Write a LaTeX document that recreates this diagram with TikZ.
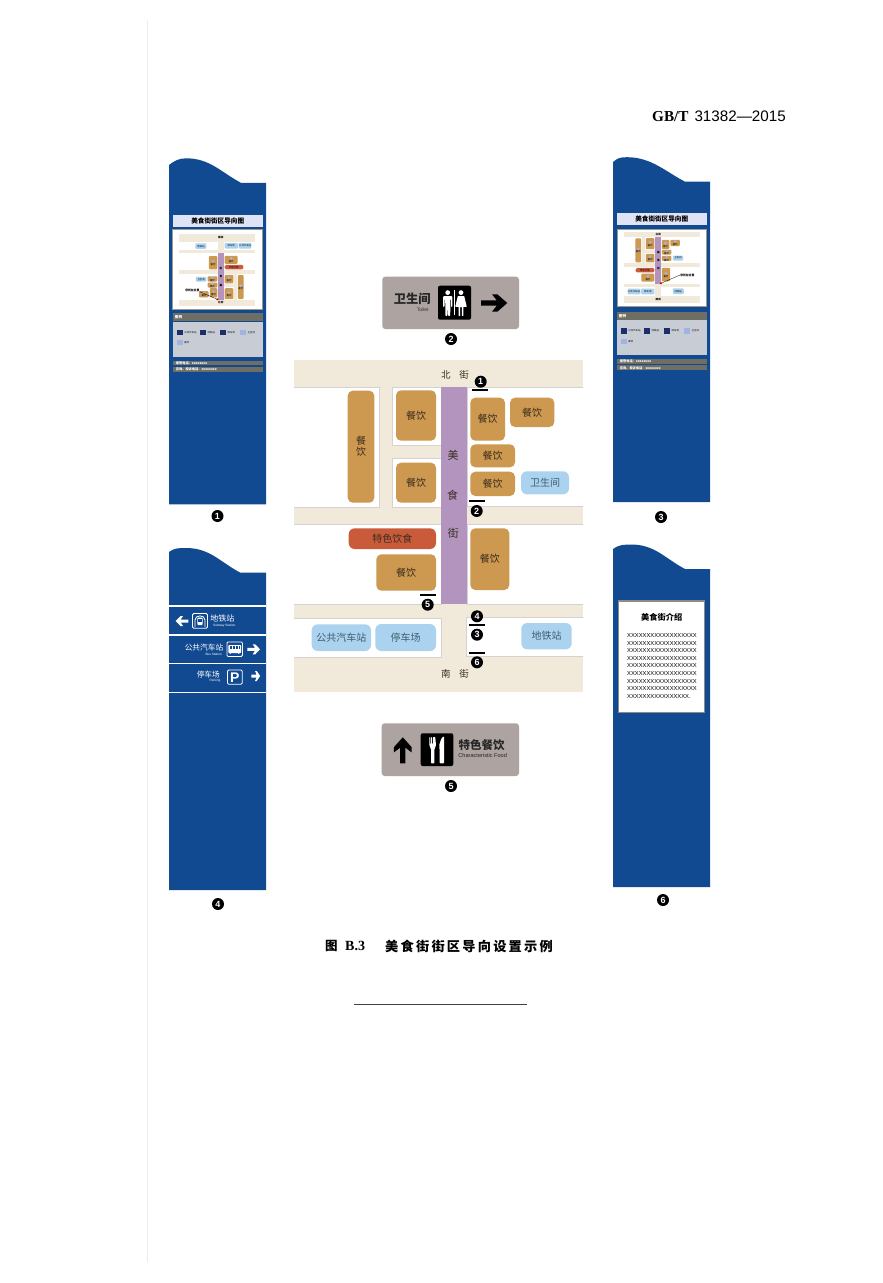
\documentclass[tikz,border=0pt]{standalone}
\usepackage{fontspec}
\setmainfont{Noto Sans CJK SC}
\newfontfamily\latsans{Liberation Sans}
\newfontfamily\latserif{Liberation Serif}
\newfontfamily\capfont[LetterSpace=17]{Noto Sans CJK SC}
\newcommand{\fpx}[1]{\fontsize{#1}{#1}\selectfont}
\definecolor{panelblue}{HTML}{124A92}
\definecolor{roadbeige}{HTML}{F1EADA}
\definecolor{blockorange}{HTML}{CD984F}
\definecolor{blockblue}{HTML}{ABD2EE}
\definecolor{blockred}{HTML}{C95B3B}
\definecolor{streetpurple}{HTML}{B294BE}
\definecolor{signgrey}{HTML}{ADA3A0}
\definecolor{edgegrey}{HTML}{D6D2D2}
\definecolor{barlight}{HTML}{DEE3F5}
\definecolor{bargrey}{HTML}{6F6E65}
\definecolor{bodygrey}{HTML}{C8CCD5}
\definecolor{iconnavy}{HTML}{1C2E6A}
\definecolor{iconpale}{HTML}{9FB4E0}
\definecolor{labeldark}{HTML}{3A2D20}
\definecolor{labelblue}{HTML}{3F5F70}
\tikzset{
  panelfill/.style={fill=panelblue},
  roadfill/.style={fill=roadbeige},
  foodblock/.style={fill=blockorange,rounded corners=5},
  stationblock/.style={fill=blockblue,rounded corners=6},
  redblock/.style={fill=blockred,rounded corners=6},
  maplabel/.style={text=labeldark,font=\fpx{10},inner sep=0,align=center},
  stationlabel/.style={text=labelblue,font=\fpx{10},inner sep=0},
  roadlabel/.style={text=labeldark,font=\fpx{9.5},inner sep=0},
  streetlabel/.style={text=labeldark,font=\fpx{11},inner sep=0},
  badge/.style={circle,fill=black,text=white,inner sep=0,minimum size=12,font=\latsans\bfseries\fpx{9}},
  markerbar/.style={line width=2,draw=black},
  signbox/.style={fill=signgrey,rounded corners=3},
  signtile/.style={fill=black,rounded corners=2},
  whitetext/.style={text=white,inner sep=0},
  entext/.style={inner sep=0,font=\latsans\fpx{3.2},text=white},
  sepline/.style={draw=white,line width=1.5},
  iconbox/.style={draw=white,line width=0.8,rounded corners=1.2},
  tinytext/.style={inner sep=0,font=\fpx{2.4},text=black},
  miniicon/.style={fill=iconpale,inner sep=0,minimum size=2.6},
  infotext/.style={inner sep=0,font=\bfseries\fpx{3.6},text=white,anchor=west}
}
% unit arrow: x from 0 to 1, y from -0.5 to 0.5
\newcommand{\unitarrow}[2]{\fill[shift={#2},#1] (0,-.15)--(.6,-.15)--(.42,-.5)--(.62,-.5)--(1,0)--(.62,.5)--(.42,.5)--(.6,.15)--(0,.15)--cycle;}
\newcommand{\panelshape}[6]{% left, start y, peak x, peak y, shoulder x, shoulder-to-bottom height
  \fill[panelfill] (#1,#2) .. controls (#1+5,#2-4) and (#3-7,#4) .. (#3,#4)
    .. controls (#3+24,#4) and (#5-20,#4+14) .. (#5,#4+24.5) -- (#1+97,#4+24.5) -- (#1+97,#4+#6) -- (#1,#4+#6) -- cycle;}
\newcommand{\miniblock}[5]{\fill[#5,rounded corners=1] (#1,#2) rectangle node[miniicon,anchor=south]{} node[tinytext,anchor=north,yshift=-.4]{餐饮} (#3,#4);}
\newcommand{\minimap}[1]{%
 \begin{scope}[#1]
  \foreach \ya/\yb in {360/385,506/524,604/618,657/692}{\fill[roadfill] (294,\ya) rectangle (647,\yb);}
  \fill[roadfill] (379,385) rectangle (392,506);
  \fill[roadfill] (392,446) rectangle (441,459);
  \fill[roadfill] (441,604) rectangle (467,657);
  \fill[streetpurple] (441,385) rectangle (467,604);
  \miniblock{348}{391}{375}{502}{blockorange}
  \miniblock{396}{390}{436}{441}{blockorange}
  \miniblock{396}{463}{436}{503}{blockorange}
  \miniblock{470}{398}{505}{441}{blockorange}
  \miniblock{510}{398}{554}{427}{blockorange}
  \miniblock{470}{444}{515}{467}{blockorange}
  \miniblock{470}{472}{515}{496}{blockorange}
  \miniblock{376}{554}{436}{591}{blockorange}
  \miniblock{470}{528}{509}{590}{blockorange}
  \fill[blockred,rounded corners=1.5] (349,528) rectangle node[tinytext]{特色饮食} (436,549);
  \fill[blockblue,rounded corners=1] (521,471) rectangle node[tinytext]{卫生间} (569,494);
  \fill[blockblue,rounded corners=1] (312,624) rectangle node[tinytext]{公共汽车站} (371,651);
  \fill[blockblue,rounded corners=1] (375,624) rectangle node[tinytext]{停车场} (436,651);
  \fill[blockblue,rounded corners=1] (521,623) rectangle node[tinytext]{地铁站} (572,649);
  \node[tinytext,font=\bfseries\fpx{2.6}] at (454,455) {美};
  \node[tinytext,font=\bfseries\fpx{2.6}] at (454,495) {食};
  \node[tinytext,font=\bfseries\fpx{2.6}] at (454,533) {街};
  \node[tinytext,font=\bfseries\fpx{2.6}] at (454,375) {北街};
  \node[tinytext,font=\bfseries\fpx{2.6}] at (454,675) {南街};
 \end{scope}}
\newcommand{\legendicon}[3]{\fill[#3] (#1-3,#2-2.6) rectangle (#1+3,#2+2.6);}
\newcommand{\panelinfo}[1]{%
 \begin{scope}[#1]
  \fill[barlight] (0,0) rectangle node[inner sep=0,font=\bfseries\fpx{6.6},text=black]{美食街街区导向图} (90,12);
  \fill[bargrey] (0,98.5) rectangle (90,106.5);
  \node[infotext] at (2,102.5) {图例};
  \fill[bodygrey] (0,107) rectangle (90,142);
  \legendicon{7.3}{117.6}{iconnavy}
  \node[tinytext,anchor=west] at (11.5,117.6) {公共汽车站};
  \legendicon{30.6}{117.6}{iconnavy}
  \node[tinytext,anchor=west] at (34.8,117.6) {地铁站};
  \legendicon{50.6}{117.6}{iconnavy}
  \node[tinytext,anchor=west] at (54.8,117.6) {停车场};
  \legendicon{70.6}{117.6}{iconpale}
  \node[tinytext,anchor=west] at (74.8,117.6) {卫生间};
  \legendicon{7.3}{128}{iconpale}
  \node[tinytext,anchor=west] at (11.5,128) {餐饮};
  \fill[bargrey] (0,146) rectangle (90,150.5);
  \node[infotext,font=\bfseries\fpx{3.2}] at (3,148.3) {报警电话：xxxxxxxx};
  \fill[bargrey] (0,152) rectangle (90,157);
  \node[infotext,font=\bfseries\fpx{3.2}] at (3,154.5) {咨询、投诉电话：xxxxxxxx};
 \end{scope}}
\begin{document}
\begin{tikzpicture}[x=1pt,y=-1pt]
\useasboundingbox (0,0) rectangle (883,1283);
\fill[white] (0,0) rectangle (883,1283);
\draw[draw=black!7,line width=0.8] (147,20) -- (147,1262);

% header
\node[inner sep=0,anchor=east] (header) at (786,116.5) {\fpx{15.2}\bfseries{\latserif GB/T}\ \,{\latsans\mdseries 31382—2015}};

% panels
\panelshape{169}{165}{186}{158.3}{241}{346}
\panelshape{613}{162}{627}{157.2}{685}{345}
\panelshape{169}{552}{186}{548}{240}{342}
\panelshape{613}{549}{631}{544.5}{685}{342.5}

% panel 1 info and map
\panelinfo{shift={(172.7,214.7)}}
\fill[white,draw=bargrey!70,line width=1] (172.7,229.2) rectangle (262.7,309);
\minimap{shift={(220.8,300.3)},xscale=-.216,yscale=-.216,shift={(-454,-385)}}
\node[inner sep=0,font=\bfseries\fpx{2.8},text=black] (here1) at (192.3,290) {您所在位置};
\coordinate (pt1) at (217.3,299.3);
\draw[black,line width=.3] (here1.south east) -- (pt1);
\fill[red!75!black] (pt1) circle (1.1);

% panel 3 info and map
\panelinfo{shift={(616.7,213.3)}}
\fill[white,draw=bargrey!70,line width=1] (617,229.3) rectangle (706,306.7);
\minimap{shift={(658.3,238.3)},xscale=.216,yscale=.216,shift={(-454,-391)}}
\node[inner sep=0,font=\bfseries\fpx{2.8},text=black] (here3) at (687.3,275) {您所在位置};
\coordinate (pt3) at (661,283.3);
\draw[black,line width=.3] (here3.west) -- (pt3);
\fill[red!75!black] (pt3) circle (1.1);

% panel 4
\draw[sepline] (169,606) -- (266,606);
\draw[sepline] (169,635) -- (266,635);
\draw[sepline] (169,663.3) -- (266,663.3);
\draw[sepline] (169,692.3) -- (266,692.3);
\unitarrow{white,xscale=-12.6,yscale=10}{(188.3,621)}
\draw[iconbox] (192.5,613.5) rectangle (207.5,628.2);
\draw[white,line width=.8] (195,627) -- (195,620) .. controls (195,614.5) and (205,614.5) .. (205,620) -- (205,627);
\fill[white,rounded corners=.8] (197.3,617.5) rectangle (202.7,625);
\fill[panelblue] (198.2,618.7) rectangle (201.8,621.5);
\node[whitetext,font=\fpx{8}] (subwaytext) at (222.3,618.3) {地铁站};
\node[entext] at (224.3,625.3) {Subway Station};
\node[whitetext,font=\fpx{7.7}] (bustext) at (204,648) {公共汽车站};
\node[entext] at (213.7,654) {Bus Station};
\draw[iconbox] (226.9,641.9) rectangle (242.5,656.5);
\fill[white,rounded corners=.8] (228.3,645) rectangle (241.2,653);
\fill[panelblue] (229.5,646.3) rectangle (240,649);
\foreach \bx in {232,235,238}{\fill[white] (\bx-.2,646.3) rectangle (\bx+.2,649);}
\fill[white] (230.2,653) circle (.9) (238.8,653) circle (.9);
\unitarrow{white,xscale=12.6,yscale=10}{(247.4,649.3)}
\node[whitetext,font=\fpx{7.7}] (parktext) at (208.3,674.3) {停车场};
\node[entext] at (215,681) {Parking};
\draw[iconbox] (227.5,670) rectangle (242.2,684.3);
\node[whitetext,font=\latsans\bfseries\fpx{14}] (parkP) at (234.9,677.2) {P};
\unitarrow{white,xscale=8.8,yscale=10}{(251.3,676)}

% panel 6
\fill[white,draw=bargrey!80,line width=1.4] (618.6,601) rectangle (704.2,712.5);
\node[inner sep=0,font=\bfseries\fpx{8.2},text=black] (introtitle) at (661.7,617.7) {美食街介绍};
\foreach \ly in {635.4,643,650.6,658.2,665.8,673.4,681,688.6}{
  \node[inner sep=0,anchor=west,font=\latsans\fpx{5.8},text=black] at (627,\ly) {XXXXXXXXXXXXXXXXXX};}
\node[inner sep=0,anchor=west,font=\latsans\fpx{5.8},text=black] (introlast) at (627,696.2) {XXXXXXXXXXXXXXXX.};

% sign 2
\fill[signbox] (382.3,276.7) rectangle (519,329);
\node[inner sep=0,font=\bfseries\fpx{12.3},text=black!85] (signtwo) at (412.3,299.3) {卫生间};
\node[inner sep=0,font=\latsans\fpx{5},text=black!80] at (422.7,309.7) {Toilet};
\fill[signtile] (438,285.7) rectangle (471,319.7);
\fill[white] (447.7,292.6) circle (2.4) (461,292.6) circle (2.4);
\fill[white,rounded corners=.8] (443.2,307) -- (443.2,296) -- (452.3,296) -- (452.3,307) -- (451.1,307) -- (451.1,299) -- (450.4,299) -- (450.2,316) -- (448.2,316) -- (447.9,307.5) -- (447.4,316) -- (445.4,316) -- (445.2,299) -- (444.5,299) -- (444.5,307) -- cycle;
\fill[white,rounded corners=.5] (457.8,296) -- (464.2,296) -- (466.8,306.8) -- (463.3,306.8) -- (463.3,316) -- (461.8,316) -- (461.8,306.8) -- (460.2,306.8) -- (460.2,316) -- (458.7,316) -- (458.7,306.8) -- (455.2,306.8) -- cycle;
\draw[white,line width=.7] (454.7,290) -- (454.7,315);
\unitarrow{black,xscale=26.3,yscale=17.4}{(481,303)}
\node[badge] (badgetwo) at (451,339) {2};

% map ground
\fill[roadfill] (294,360) rectangle (583,692);
\begin{scope}
\clip (294,360) rectangle (583,692);
\foreach \xa/\ya/\xb/\yb in {285/387/379/507,392/387/441/445,392/458/441/507,467/387/592/506,285/524/441/604,467/524/592/604,285/618/441/657,466/617/592/656}{
  \fill[white] (\xa,\ya) rectangle (\xb,\yb);
  \draw[edgegrey,line width=1] (\xa,\ya) rectangle (\xb,\yb);}
\end{scope}
\fill[streetpurple] (441,387) rectangle (467,604);
\foreach \xa/\ya/\xb/\yb in {396/390.3/436/440.7,396/462.7/436/502.7,470.3/397.7/505/440.7,510/397.7/554.3/427,470.3/444.3/515/467.3,470.3/471.7/515/496,376.3/554.3/436/590.7,470.3/528.3/509.3/590}{
  \fill[foodblock] (\xa,\ya) rectangle node[maplabel]{餐饮} (\xb,\yb);}
\fill[foodblock] (347.7,390.7) rectangle node[maplabel]{餐\\[1pt]饮} (374.3,502.7);
\fill[redblock] (348.7,528.3) rectangle node[maplabel]{特色饮食} (436,549);
\fill[stationblock] (521,471.3) rectangle node[stationlabel]{卫生间} (569,494.3);
\fill[stationblock] (311.7,624.3) rectangle node[stationlabel]{公共汽车站} (371,651);
\fill[stationblock] (375.3,624) rectangle node[stationlabel]{停车场} (436,651);
\fill[stationblock] (521.3,623) rectangle node[stationlabel]{地铁站} (571.7,649.3);
\node[roadlabel] (north) at (455,375) {北\hspace{.9em}街};
\node[roadlabel] (south) at (455,674) {南\hspace{.9em}街};
\node[streetlabel] at (453,455.7) {美};
\node[streetlabel] at (452.7,495) {食};
\node[streetlabel] at (453.3,533) {街};

% position markers
\node[badge] (mone) at (480.7,381.7) {1};
\draw[markerbar] (472.3,389.7) -- (488.3,389.7);
\node[badge] (mtwo) at (476.7,511) {2};
\draw[markerbar] (469,501) -- (485.3,501);
\node[badge] (mfive) at (427.7,604.7) {5};
\draw[markerbar] (419.7,595) -- (436,595);
\node[badge] (mfour) at (477,616.3) {4};
\draw[markerbar] (469,625.3) -- (485.3,625.3);
\node[badge] (mthree) at (477,634.7) {3};
\draw[markerbar] (469,652.7) -- (485.3,652.7);
\node[badge] (msix) at (477,662.3) {6};

% sign 5
\fill[signbox] (381.7,723.3) rectangle (519,776);
\unitarrow{black,rotate=90,xscale=26,yscale=17.7}{(402.8,763.3)}
\fill[signtile] (420.7,733.3) rectangle (453.3,766);
\fill[white,rounded corners=.6] (429.3,737) -- (430.3,737) -- (430.3,744) -- (431.2,744) -- (431.2,737) -- (432.2,737) -- (432.2,744) -- (433.1,744) -- (433.1,737) -- (434.1,737) -- (435.2,737) -- (436,745) -- (434.3,750) -- (434.3,763.3) -- (431.2,763.3) -- (431.2,750) -- (429.3,745) -- cycle;
\fill[white,rounded corners=.8] (439.6,763.3) -- (439.6,751) -- (439.3,745) .. controls (440,741) and (442,737) .. (444,736.5) -- (444,763.3) -- cycle;
\node[inner sep=0,font=\bfseries\fpx{11.5},text=black!85] (signfive) at (481.7,745) {特色餐饮};
\node[inner sep=0,font=\latsans\fpx{5.6},text=black!85] at (482.7,755.7) {Characteristic Food};
\node[badge] (badgefive) at (451,786) {5};

% panel numbers
\node[badge] (badgeone) at (217.5,516) {1};
\node[badge] (badgethree) at (661,517) {3};
\node[badge] (badgefour) at (218,904) {4};
\node[badge] (badgesix) at (663,900) {6};

% caption
\node[inner sep=0,anchor=west,font=\bfseries\fpx{12.5}] (figtag) at (325,946) {图};
\node[inner sep=0,anchor=west,font=\latserif\bfseries\fpx{14}] (fignum) at (345,946) {B.3};
\node[inner sep=0,anchor=west] (figtitle) at (385,946) {\capfont\bfseries\fpx{13.2}美食街街区导向设置示例};
\coordinate (rulea) at (354,1004);
\coordinate (ruleb) at (527,1004);
\draw[black!75,line width=.9] (rulea) -- (ruleb);
\end{tikzpicture}
\end{document}
